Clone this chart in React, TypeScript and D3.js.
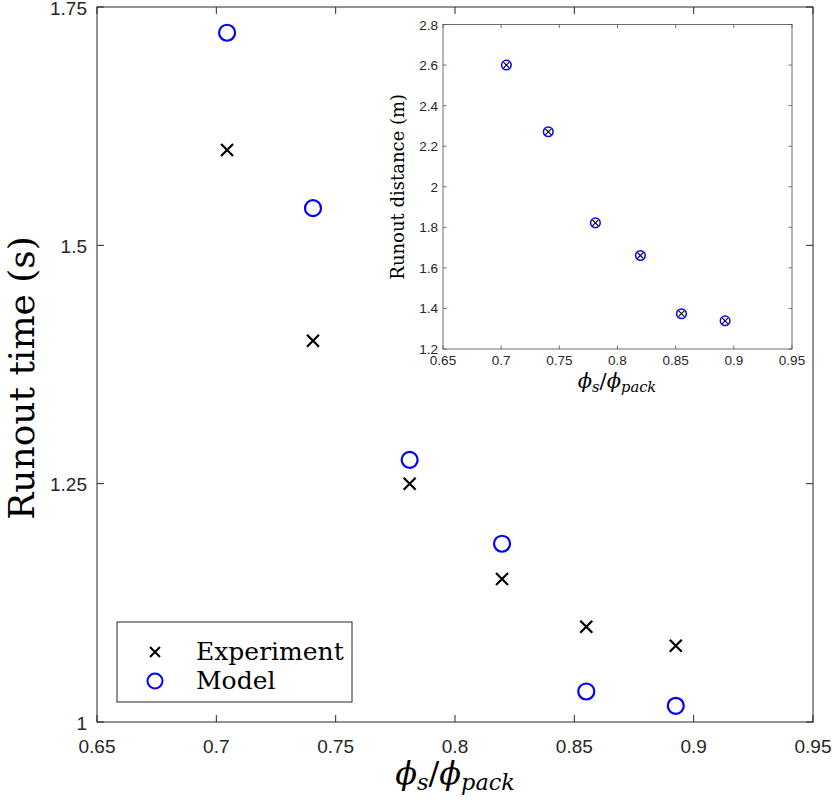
import React from "react";
import * as d3 from "d3";

const phi: number[] = [0.7045, 0.7405, 0.781, 0.8197, 0.855, 0.8925];
const experimentTime: number[] = [1.6, 1.4, 1.25, 1.15, 1.1, 1.08];
const modelTime: number[] = [1.723, 1.539, 1.275, 1.187, 1.032, 1.017];
const insetDistance: number[] = [2.6, 2.271, 1.822, 1.661, 1.374, 1.339];

const mainXTicks: number[] = [0.65, 0.7, 0.75, 0.8, 0.85, 0.9, 0.95];
const mainYTicks: number[] = [1, 1.25, 1.5, 1.75];
const insetXTicks: number[] = [0.65, 0.7, 0.75, 0.8, 0.85, 0.9, 0.95];
const insetYTicks: number[] = [1.2, 1.4, 1.6, 1.8, 2, 2.2, 2.4, 2.6, 2.8];
const legendLabels: string[] = ["Experiment", "Model"];

const AX = "#262626";
const SANS = "Liberation Sans, Arial, Helvetica, sans-serif";
const SERIF = "DejaVu Serif, Liberation Serif, serif";
const BLUE = "#0000ff";

const Cross = ({ x, y, s, w }: { x: number; y: number; s: number; w: number }) => (
  <path d={`M${x - s},${y - s}L${x + s},${y + s}M${x - s},${y + s}L${x + s},${y - s}`} stroke="#000" strokeWidth={w} fill="none" />
);

const PhiLabel = ({ x, y, size }: { x: number; y: number; size: number }) => (
  <text x={x} y={y} textAnchor="middle" fontFamily={SERIF} fontStyle="italic" fontSize={size} fill="#000">
    <tspan>ϕ</tspan>
    <tspan fontSize={size * 0.7} dy={size * 0.18}>s</tspan>
    <tspan dy={-size * 0.18} fontStyle="normal">/</tspan>
    <tspan>ϕ</tspan>
    <tspan fontSize={size * 0.7} dy={size * 0.18}>pack</tspan>
  </text>
);

export default function App() {
  const W = 832, H = 802;
  const x = d3.scaleLinear().domain([0.65, 0.95]).range([97, 813]);
  const y = d3.scaleLinear().domain([1, 1.75]).range([722, 7]);
  const ix = d3.scaleLinear().domain([0.65, 0.95]).range([443, 792]);
  const iy = d3.scaleLinear().domain([1.2, 2.8]).range([349, 24.5]);
  const tk = 7;
  const itk = 3.5;

  return (
    <svg width={W} height={H} style={{ position: "absolute", left: 0, top: 0 }}>
      <rect width={W} height={H} fill="#fff" />
      {/* main axes box */}
      <rect x={x(0.65)} y={y(1.75)} width={x(0.95) - x(0.65)} height={y(1) - y(1.75)} fill="none" stroke={AX} strokeWidth={1} />
      {mainXTicks.map((t) => (
        <g key={"mx" + t}>
          <line x1={x(t)} x2={x(t)} y1={y(1)} y2={y(1) - tk} stroke={AX} />
          <line x1={x(t)} x2={x(t)} y1={y(1.75)} y2={y(1.75) + tk} stroke={AX} />
          <text x={x(t)} y={y(1) + 31} textAnchor="middle" fontFamily={SANS} fontSize={19} fill={AX}>{d3.format("")(t)}</text>
        </g>
      ))}
      {mainYTicks.map((t) => (
        <g key={"my" + t}>
          <line x1={x(0.65)} x2={x(0.65) + tk} y1={y(t)} y2={y(t)} stroke={AX} />
          <line x1={x(0.95)} x2={x(0.95) - tk} y1={y(t)} y2={y(t)} stroke={AX} />
          <text x={x(0.65) - 10} y={y(t) + 7.5} textAnchor="end" fontFamily={SANS} fontSize={19} fill={AX}>{d3.format("")(t)}</text>
        </g>
      ))}
      <text transform={`translate(34,378) rotate(-90)`} textAnchor="middle" fontFamily={SERIF} fontSize={36} fill="#000">Runout time (s)</text>
      <PhiLabel x={455} y={784} size={32} />

      {/* main data */}
      {phi.map((p, i) => (
        <Cross key={"e" + i} x={x(p)} y={y(experimentTime[i])} s={6} w={2.2} />
      ))}
      {phi.map((p, i) => (
        <circle key={"m" + i} cx={x(p)} cy={y(modelTime[i])} r={8} fill="none" stroke={BLUE} strokeWidth={2.2} />
      ))}

      {/* legend */}
      <rect x={117} y={622} width={235} height={80} fill="#fff" stroke={AX} strokeWidth={1} />
      <Cross x={155} y={652} s={5} w={2} />
      <circle cx={155} cy={681} r={7.5} fill="none" stroke={BLUE} strokeWidth={2} />
      {legendLabels.map((l, i) => (
        <text key={l} x={196} y={652 + i * 29 + 8} fontFamily={SERIF} fontSize={25} fill="#000">{l}</text>
      ))}

      {/* inset */}
      <rect x={ix(0.65)} y={iy(2.8)} width={ix(0.95) - ix(0.65)} height={iy(1.2) - iy(2.8)} fill="#fff" stroke="#4d4d4d" strokeWidth={0.8} />
      {insetXTicks.map((t) => (
        <g key={"ix" + t}>
          <line x1={ix(t)} x2={ix(t)} y1={iy(1.2)} y2={iy(1.2) - itk} stroke="#4d4d4d" strokeWidth={0.8} />
          <line x1={ix(t)} x2={ix(t)} y1={iy(2.8)} y2={iy(2.8) + itk} stroke="#4d4d4d" strokeWidth={0.8} />
          <text x={ix(t)} y={iy(1.2) + 16} textAnchor="middle" fontFamily={SANS} fontSize={13.5} fill={AX}>{d3.format("")(t)}</text>
        </g>
      ))}
      {insetYTicks.map((t) => (
        <g key={"iy" + t}>
          <line x1={ix(0.65)} x2={ix(0.65) + itk} y1={iy(t)} y2={iy(t)} stroke="#4d4d4d" strokeWidth={0.8} />
          <line x1={ix(0.95)} x2={ix(0.95) - itk} y1={iy(t)} y2={iy(t)} stroke="#4d4d4d" strokeWidth={0.8} />
          <text x={ix(0.65) - 5} y={iy(t) + 5} textAnchor="end" fontFamily={SANS} fontSize={13.5} fill={AX}>{d3.format("")(t)}</text>
        </g>
      ))}
      <text transform={`translate(404,${(iy(1.2) + iy(2.8)) / 2}) rotate(-90)`} textAnchor="middle" fontFamily={SERIF} fontSize={18} fill="#000">Runout distance (m)</text>
      <PhiLabel x={617} y={388} size={21} />
      {phi.map((p, i) => (
        <g key={"id" + i}>
          <circle cx={ix(p)} cy={iy(insetDistance[i])} r={4.8} fill="none" stroke={BLUE} strokeWidth={1.5} />
          <Cross x={ix(p)} y={iy(insetDistance[i])} s={3} w={1.1} />
        </g>
      ))}
    </svg>
  );
}
